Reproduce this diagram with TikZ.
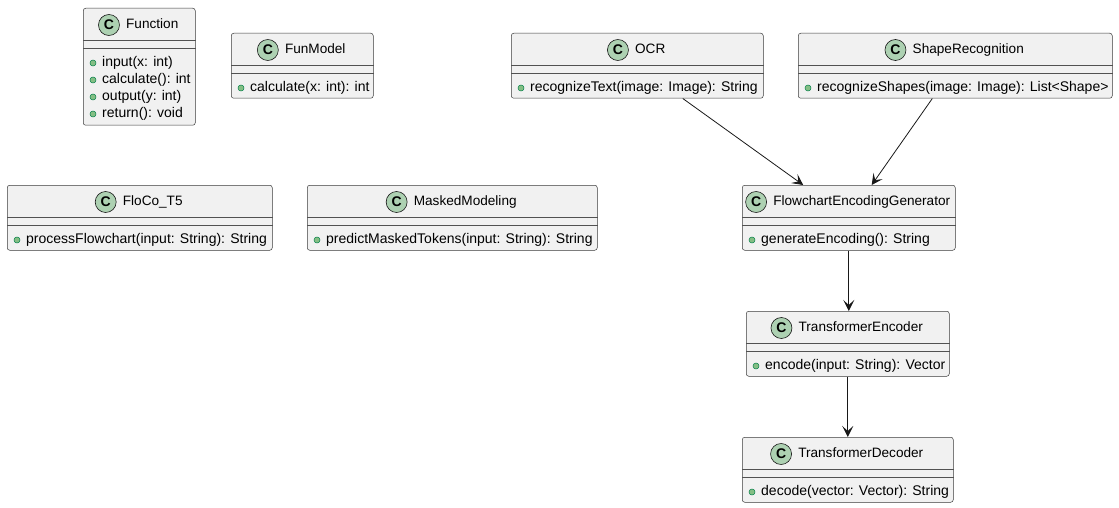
\documentclass[tikz,border=0pt]{standalone}
\usepackage{fontspec}
\setmainfont{Liberation Sans}
\usepackage{xcolor}
\usepackage{tikz}
\usetikzlibrary{arrows.meta}

\definecolor{boxfill}{HTML}{F1F1F1}
\definecolor{boxline}{HTML}{181818}
\definecolor{iconfill}{HTML}{ADD1B2}
\definecolor{dotfill}{HTML}{84BE84}
\definecolor{dotline}{HTML}{038048}

\tikzset{
  classbox/.style={draw=boxline!85, fill=boxfill, rounded corners=2.5pt, line width=0.5pt, anchor=north west, inner sep=0pt},
  sepline/.style={draw=boxline!75, line width=0.5pt},
  titletext/.style={inner sep=0pt, text height=10pt, text depth=3pt, font=\fontsize{13.6}{16}\selectfont},
  classicon/.style={circle, draw=boxline, fill=iconfill, line width=0.6pt, minimum size=21pt, inner sep=0pt, font=\bfseries\fontsize{14}{14}\selectfont},
  dotmark/.style={circle, draw=dotline, fill=dotfill, line width=0.5pt, minimum size=6pt, inner sep=0pt},
  methodtext/.style={inner sep=0pt, text height=10pt, text depth=3pt, font=\fontsize{14}{16}\selectfont},
  conn/.style={draw=boxline, line width=0.8pt, -{Stealth[length=11pt, width=11pt, inset=5pt]}}
}

% name, left, top, width, height, title, methods
\newcommand{\umlclass}[7]{%
  \node[classbox, minimum width=#4pt, minimum height=#5pt] (#1) at (#2,#3) {};
  \draw[sepline] ([yshift=-32pt]#1.north west) -- ([yshift=-32pt]#1.north east);
  \draw[sepline] ([yshift=-40pt]#1.north west) -- ([yshift=-40pt]#1.north east);
  \node[titletext] (#1-title) at ([xshift=13pt, yshift=-17pt]#1.north) {#6};
  \node[classicon] (#1-icon) at ([xshift=-17pt]#1-title.west) {C};
  \foreach \m [count=\i] in {#7} {
    \node[dotmark] (#1-dot\i) at ([xshift=10pt, yshift={-55pt-17pt*(\i-1)}]#1.north west) {};
    \node[methodtext, anchor=west] (#1-m\i) at ([xshift=9pt]#1-dot\i.center) {\m};
  }
}

\begin{document}
\begin{tikzpicture}[x=1pt, y=-1pt]
  \useasboundingbox (0,0) rectangle (1119,508);

  \umlclass{function}{83}{8}{112}{117}{Function}{input(x: int), calculate(): int, output(y: int), return(): void}
  \umlclass{funmodel}{231}{33}{142}{65}{FunModel}{calculate(x: int): int}
  \umlclass{ocr}{511}{33}{252}{65}{OCR}{recognizeText(image: Image): String}
  \umlclass{shaperec}{798}{33}{314}{65}{ShapeRecognition}{recognizeShapes(image: Image): List<Shape>}
  \umlclass{floco}{7}{185}{265}{65}{FloCo\_T5}{processFlowchart(input: String): String}
  \umlclass{masked}{307}{185}{290}{65}{MaskedModeling}{predictMaskedTokens(input: String): String}
  \umlclass{feg}{742}{185}{213}{65}{FlowchartEncodingGenerator}{generateEncoding(): String}
  \umlclass{encoder}{746}{311}{203}{65}{TransformerEncoder}{encode(input: String): Vector}
  \umlclass{decoder}{742}{437}{211}{65}{TransformerDecoder}{decode(vector: Vector): String}

  \draw[conn] (ocr) -- (feg);
  \draw[conn] (shaperec) -- (feg);
  \draw[conn] (feg.south) -- (feg.south |- encoder.north);
  \draw[conn] (encoder.south) -- (encoder.south |- decoder.north);
\end{tikzpicture}
\end{document}
